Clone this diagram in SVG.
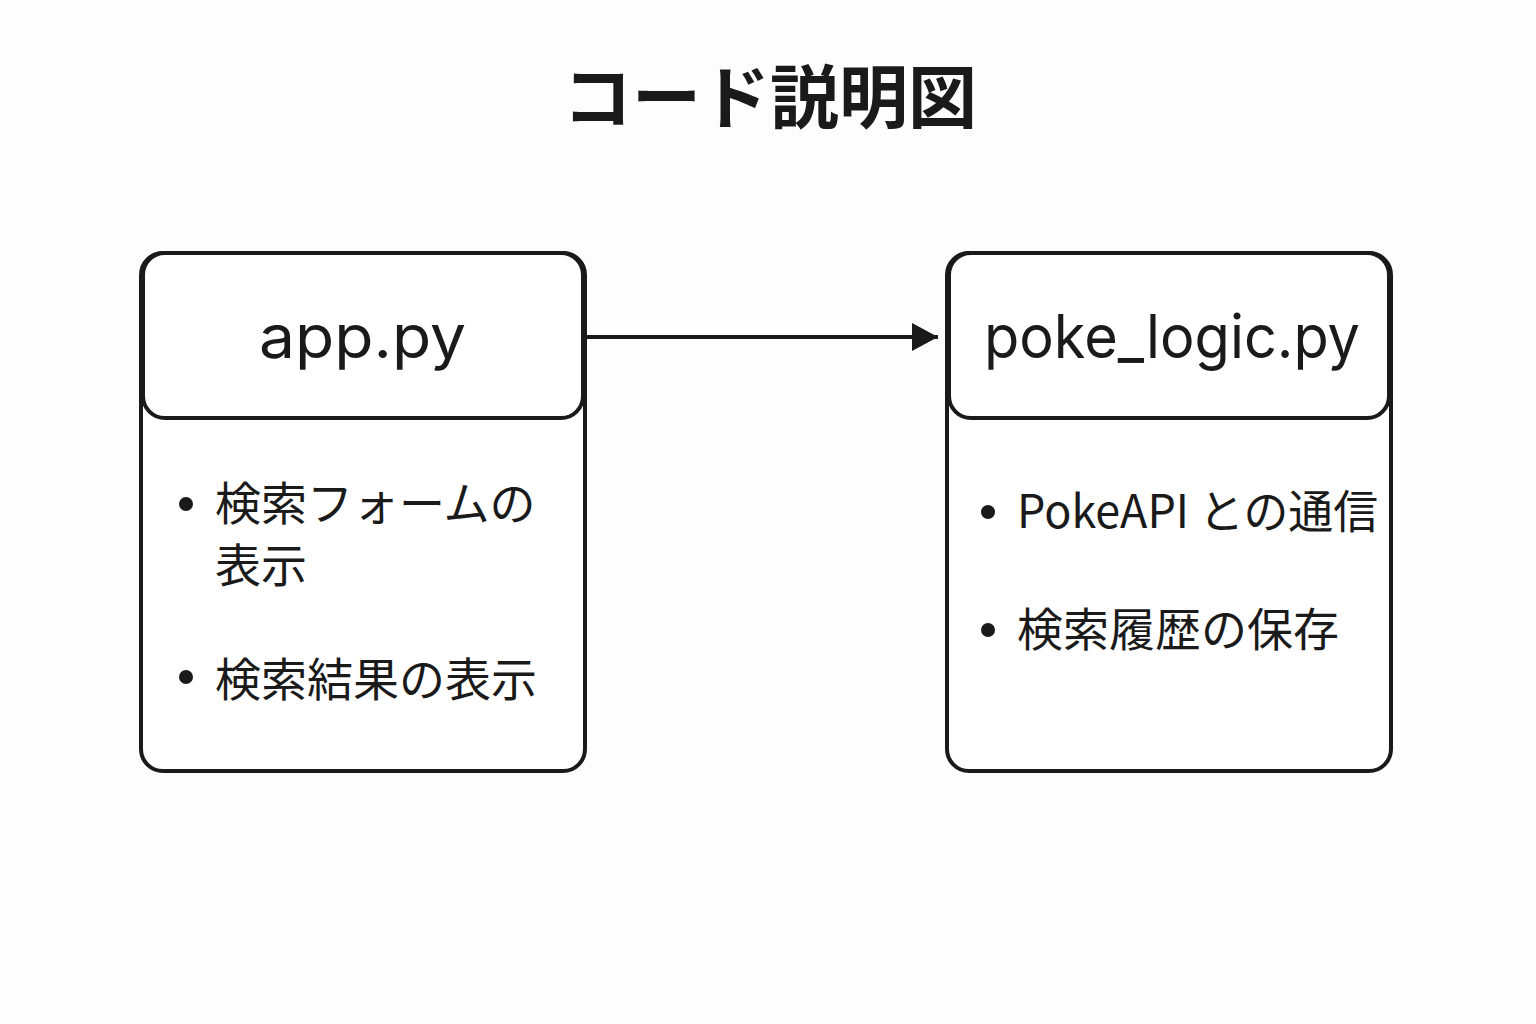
<svg xmlns="http://www.w3.org/2000/svg" width="1536" height="1024" viewBox="0 0 1536 1024">
<defs>
<style>
.box{fill:#fff;stroke:#1a1a1a;stroke-width:4}
.ttl{font-family:"Noto Sans CJK JP","Noto Sans",sans-serif;font-size:69px;font-weight:bold;fill:#1a1a1a}
.hdr{font-family:Inter,"Noto Sans","Noto Sans CJK JP",sans-serif;font-size:61px;fill:#1a1a1a}
.itm{font-family:"Noto Sans CJK JP","Noto Sans",sans-serif;font-size:46px;fill:#1a1a1a}
.dot{fill:#1a1a1a}
.conn{stroke:#1a1a1a;stroke-width:4;fill:none}
</style>
<marker id="arr" viewBox="0 0 26 28" refX="26" refY="14" markerWidth="26" markerHeight="28" markerUnits="userSpaceOnUse" orient="auto">
<path d="M0 0 L26 14 L0 28 Z" fill="#1a1a1a"/>
</marker>
</defs>
<rect width="1536" height="1024" fill="#fdfdfd"/>
<text class="ttl" x="770" y="123" text-anchor="middle">コード説明図</text>
<g id="app">
<rect class="box" x="141" y="253" width="444" height="518" rx="22"/>
<rect class="box" x="143" y="253" width="440" height="165" rx="22"/>
<text class="hdr" x="259" y="358" textLength="207" lengthAdjust="spacingAndGlyphs">app.py</text>
<circle class="dot" cx="186" cy="504" r="7"/>
<text class="itm" x="215" y="520">検索フォームの</text>
<text class="itm" x="215" y="582">表示</text>
<circle class="dot" cx="186" cy="677" r="7"/>
<text class="itm" x="215" y="696">検索結果の表示</text>
</g>
<g id="poke_logic">
<rect class="box" x="947" y="253" width="444" height="518" rx="22"/>
<rect class="box" x="949" y="253" width="440" height="165" rx="22"/>
<text class="hdr" x="984" y="358" textLength="376" lengthAdjust="spacingAndGlyphs">poke_logic.py</text>
<circle class="dot" cx="988" cy="512" r="7"/>
<text class="itm" x="1017" y="528" textLength="361" lengthAdjust="spacingAndGlyphs">PokeAPI との通信</text>
<circle class="dot" cx="988" cy="630" r="7"/>
<text class="itm" x="1017" y="646">検索履歴の保存</text>
</g>
<g id="connectors">
<line class="conn" x1="587" y1="337" x2="938" y2="337" marker-end="url(#arr)"/>
</g>
</svg>
